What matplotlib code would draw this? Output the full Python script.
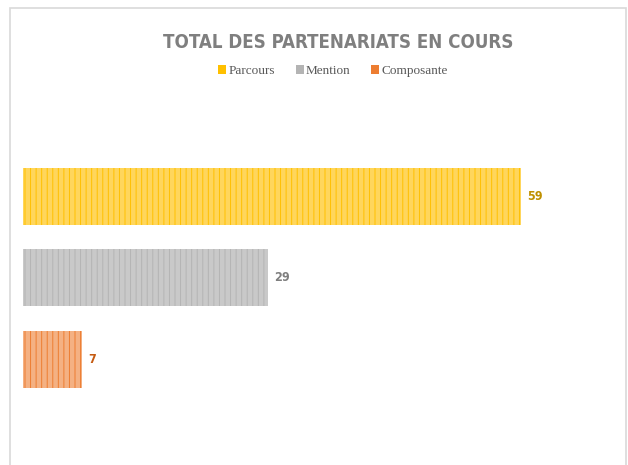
import matplotlib.pyplot as plt
from matplotlib.patches import Rectangle, Patch

categories = ['Parcours', 'Mention', 'Composante']
values = [59, 29, 7]
bar_colors = ['#ffd65c', '#c9c9c9', '#f4b183']
stripe_colors = ['#ffc000', '#b4b4b4', '#ed7d31']
label_colors = ['#bf9000', '#7f7f7f', '#c55a11']
title = 'TOTAL DES PARTENARIATS EN COURS'

plt.rcParams['hatch.linewidth'] = 0.7

W, H = 628, 465
fig = plt.figure(figsize=(W / 100, H / 100), dpi=100)

# light frame around the chart area
fig.patches.append(Rectangle((10 / W, -0.1), 616 / W, 1.1 - 8 / H,
                             transform=fig.transFigure, fill=False,
                             edgecolor='#d9d9d9', linewidth=1.2))

px = 498 / 59.0
ax = fig.add_axes([23 / W, 1 - 440.5 / H, 577 / W, 325.5 / H])
ypos = list(range(len(values)))
ax.barh(ypos, values, height=0.7, color=bar_colors,
        edgecolor=stripe_colors, hatch='|||', linewidth=0)
ax.set_xlim(0, 577 / px)
ax.set_ylim(3, -1)
ax.axis('off')

for y, v, c in zip(ypos, values, label_colors):
    ax.annotate(str(v), (v, y), xytext=(6, 0), textcoords='offset pixels',
                va='center', ha='left', color=c, fontsize=9,
                fontweight='bold', family='DejaVu Sans', fontstretch='condensed')

fig.text(338 / W, 1 - 42 / H, title, ha='center', va='center',
         fontsize=13.4, fontweight='bold', color='#7f7f7f',
         family='DejaVu Sans', fontstretch='condensed')

handles = [Patch(facecolor=bc, edgecolor='none') for bc in stripe_colors]
fig.legend(handles, categories, loc='center', bbox_to_anchor=(333 / W, 1 - 71 / H),
           ncol=3, frameon=False, handlelength=0.6, handleheight=0.6,
           handletextpad=0.15, columnspacing=1.6,
           prop={'family': 'Liberation Serif', 'size': 9.5}, labelcolor='#595959')

fig.savefig('out.png', dpi=100, facecolor='white')
